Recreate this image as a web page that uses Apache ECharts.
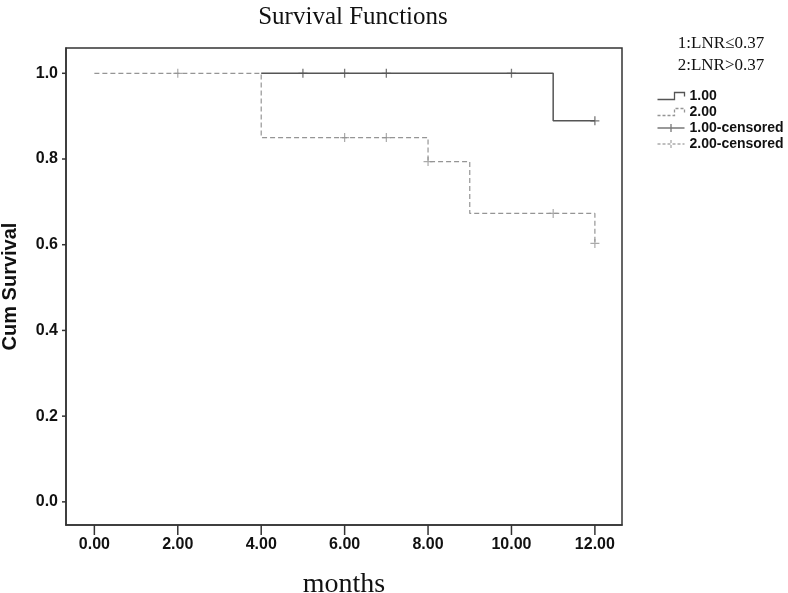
<!DOCTYPE html>
<html>
<head>
<meta charset="utf-8">
<script src="https://cdn.jsdelivr.net/npm/echarts@6/dist/echarts.min.js"></script>
<style>html,body{margin:0;padding:0;background:#fff}#c{width:788px;height:593px}</style>
</head>
<body>
<div id="c"></div>
<script>
// Kaplan-Meier step data (time in months, cumulative survival)
var group1Name = '1.00';
var group2Name = '2.00';
var group1Steps = [[4, 1.0], [11, 0.889], [12, 0.889]];
var group2Steps = [[0, 1.0], [4, 0.85], [8, 0.794], [9, 0.673], [12, 0.603]];
var group1Censored = [[5, 1.0], [6, 1.0], [7, 1.0], [10, 1.0], [12, 0.889]];
var group2Censored = [[2, 1.0], [6, 0.85], [7, 0.85], [8, 0.794], [11, 0.673], [12, 0.603]];
var xTicks = [0, 2, 4, 6, 8, 10, 12];
var yTicks = [0, 0.2, 0.4, 0.6, 0.8, 1.0];
var groupLabels = ['1:LNR\u22640.37', '2:LNR>0.37'];

var xMin = -0.68, xMax = 12.65, yMin = -0.054, yMax = 1.059;
var c1 = '#555555', c2 = '#959595', axisColor = '#333';
var stepIcon = 'path://M0,7 L17,7 L17,0 L27,0 L27,4';
var crossIcon = 'path://M0,4 L27,4 M13.5,0 L13.5,8';
var plus = 'path://M0,5 L10,5 M5,0 L5,10';

var chart = echarts.init(document.getElementById('c'), null, {renderer: 'canvas'});
chart.setOption({
  animation: false,
  backgroundColor: '#fff',
  title: [{
    text: 'Survival Functions',
    left: 348, top: 0, textAlign: 'center',
    textStyle: {fontFamily: 'Liberation Serif', fontWeight: 'normal', fontSize: 25, color: '#111'}
  }, {
    text: groupLabels.join('\n'),
    left: 716, top: 28, textAlign: 'center',
    textStyle: {fontFamily: 'Liberation Serif', fontWeight: 'normal', fontSize: 17, lineHeight: 22, color: '#111'}
  }],
  legend: {
    orient: 'vertical', left: 650, top: 84, itemWidth: 27, itemHeight: 8, itemGap: 2,
    selectedMode: false,
    textStyle: {fontFamily: 'Liberation Sans', fontWeight: 'bold', fontSize: 14, color: '#111'},
    data: [
      {name: group1Name, icon: stepIcon, itemStyle: {color: 'none', borderColor: c1, borderWidth: 1.3, borderType: 'solid'}},
      {name: group2Name, icon: stepIcon, itemStyle: {color: 'none', borderColor: c2, borderWidth: 1.3, borderType: [3, 2]}},
      {name: group1Name + '-censored', icon: crossIcon, itemStyle: {color: 'none', borderColor: c1, borderWidth: 1.3, borderType: 'solid'}},
      {name: group2Name + '-censored', icon: crossIcon, itemStyle: {color: 'none', borderColor: c2, borderWidth: 1.3, borderType: [3, 2]}}
    ]
  },
  grid: {left: 66, right: 166, top: 48, bottom: 68, show: true, borderColor: axisColor, borderWidth: 1.5,
    backgroundColor: 'transparent', containLabel: false,
    outerBounds: {left: -300, right: -300, top: -300, bottom: -300}},
  xAxis: {
    type: 'value', min: xMin, max: xMax, position: 'bottom',
    name: 'months', nameLocation: 'middle', nameGap: 46,
    nameTextStyle: {fontFamily: 'Liberation Serif', fontSize: 28, color: '#111'},
    splitLine: {show: false},
    axisLine: {show: true, onZero: false, lineStyle: {color: axisColor, width: 1.5}},
    axisTick: {show: false},
    axisLabel: {customValues: xTicks, margin: 12, formatter: function (v) { return v.toFixed(2); },
      fontFamily: 'Liberation Sans', fontWeight: 'bold', fontSize: 16, color: '#111'}
  },
  yAxis: {
    type: 'value', min: yMin, max: yMax, position: 'left',
    name: 'Cum Survival', nameLocation: 'middle', nameGap: 46,
    nameTextStyle: {fontFamily: 'Liberation Sans', fontWeight: 'bold', fontSize: 20, color: '#111'},
    splitLine: {show: false},
    axisLine: {show: true, onZero: false, lineStyle: {color: axisColor, width: 1.5}},
    axisTick: {show: false},
    axisLabel: {customValues: yTicks, margin: 8, formatter: function (v) { return v.toFixed(1); },
      fontFamily: 'Liberation Sans', fontWeight: 'bold', fontSize: 16, color: '#111'}
  },
  series: [
    {name: group1Name, type: 'line', step: 'end', data: group1Steps, showSymbol: false, symbol: 'none',
      lineStyle: {color: c1, width: 1.5}, itemStyle: {color: c1}, z: 3},
    {name: group2Name, type: 'line', step: 'end', data: group2Steps, showSymbol: false, symbol: 'none',
      lineStyle: {color: c2, width: 1.2, type: [5, 3]}, itemStyle: {color: c2}, z: 2},
    {name: group1Name + '-censored', type: 'scatter', data: group1Censored, symbol: plus, symbolSize: [9, 9],
      itemStyle: {color: 'none', borderColor: c1, borderWidth: 1.3}, z: 4},
    {name: group2Name + '-censored', type: 'scatter', data: group2Censored, symbol: plus, symbolSize: [9, 9],
      itemStyle: {color: 'none', borderColor: c2, borderWidth: 1.2}, z: 4}
  ]
});

// Axis tick marks, positioned through the chart's own scales
var tickEls = [];
xTicks.forEach(function (v) {
  var p = chart.convertToPixel({xAxisIndex: 0, yAxisIndex: 0}, [v, yMin]);
  tickEls.push({type: 'line', z: 100, silent: true,
    shape: {x1: p[0], y1: p[1], x2: p[0], y2: p[1] + 10},
    style: {stroke: axisColor, lineWidth: 1.5}});
});
yTicks.forEach(function (v) {
  var p = chart.convertToPixel({xAxisIndex: 0, yAxisIndex: 0}, [xMin, v]);
  tickEls.push({type: 'line', z: 100, silent: true,
    shape: {x1: p[0], y1: p[1], x2: p[0] - 4, y2: p[1]},
    style: {stroke: axisColor, lineWidth: 1.5}});
});
chart.setOption({graphic: tickEls});
</script>
</body>
</html>
